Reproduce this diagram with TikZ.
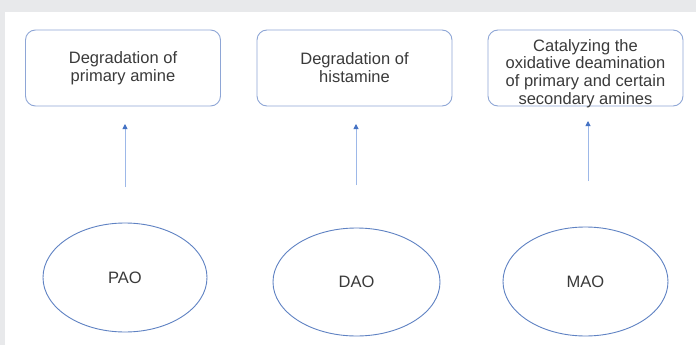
\documentclass[tikz,border=0pt]{standalone}
\usepackage{fontspec}
\setmainfont{Liberation Sans}
\usetikzlibrary{arrows.meta,shapes.geometric,calc}
\definecolor{bggray}{HTML}{E8E9EB}
\definecolor{boxline}{HTML}{8EA6D6}
\definecolor{ellline}{HTML}{5F82C3}
\definecolor{arrline}{HTML}{9DB8E8}
\definecolor{arrhead}{HTML}{4472C4}
\definecolor{txt}{HTML}{3A3A3A}
\begin{document}
\begin{tikzpicture}[x=1pt,y=-1pt,
  boxnode/.style={draw=boxline, line width=0.9pt, rounded corners=10pt, minimum width=195pt, minimum height=76pt, inner sep=0pt, align=center, text=txt, font=\fontsize{16.5}{17.8}\selectfont},
  txtnode/.style={inner sep=0pt, align=center, text=txt, font=\fontsize{16.5}{17.8}\selectfont},
  ellnode/.style={draw=ellline, line width=0.9pt, ellipse, inner sep=0pt, text=txt, font=\fontsize{16.5}{18}\selectfont},
  uparrow/.style={draw=arrline, line width=0.9pt, -{Triangle[length=5pt,width=5pt,color=arrhead]}}]
  \useasboundingbox (0,0) rectangle (696,345);
  \fill[bggray] (0,0) rectangle (696,345);
  \fill[white] (5,12) rectangle (696,345);

  \node[boxnode] (b1) at (123,68) {Degradation of\\primary amine};
  \node[boxnode] (b2) at (354.5,68) {Degradation of\\histamine};
  \node[boxnode] (b3) at (585.5,68) {};
  \node[txtnode] (t3) at (585.5,73.5) {Catalyzing the\\oxidative deamination\\of primary and certain\\secondary amines};

  \node[ellnode, minimum width=164pt, minimum height=109pt] (e1) at (125,277.5) {PAO};
  \node[ellnode, minimum width=167pt, minimum height=108pt] (e2) at (356.5,282) {DAO};
  \node[ellnode, minimum width=165pt, minimum height=109pt] (e3) at (585.5,281.5) {MAO};

  \coordinate (s1) at (125,187);
  \coordinate (h1) at (125,124);
  \coordinate (s2) at (356,185);
  \coordinate (h2) at (356,124);
  \coordinate (s3) at (588,181);
  \coordinate (h3) at (588,121);
  \draw[uparrow] (s1) -- (h1);
  \draw[uparrow] (s2) -- (h2);
  \draw[uparrow] (s3) -- (h3);
\end{tikzpicture}
\end{document}
